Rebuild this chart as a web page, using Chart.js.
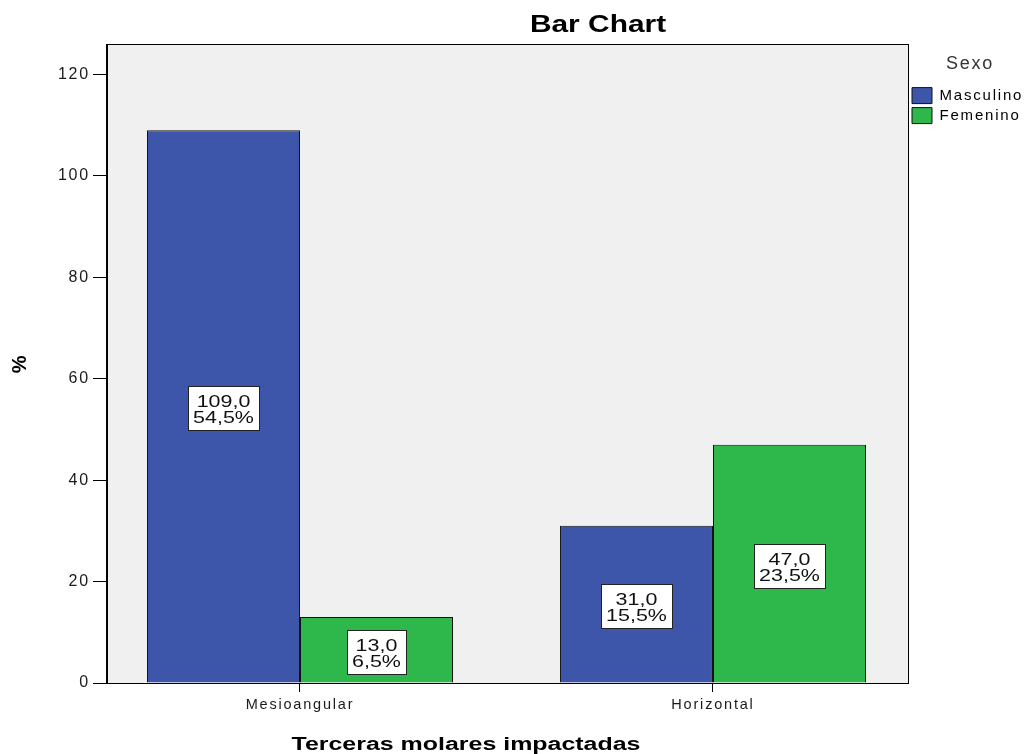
<!DOCTYPE html>
<html>
<head>
<meta charset="utf-8">
<script src="https://cdn.jsdelivr.net/npm/chart.js@4.4.1/dist/chart.umd.min.js"></script>
<style>
  html, body { margin: 0; background: #fff; }
  #wrap { width: 1032px; height: 754px; position: relative; }
</style>
</head>
<body>
<div id="wrap"><canvas id="chart"></canvas></div>
<script>
// values (counts, and % of the 200 cases)
const categories = ['Mesioangular', 'Horizontal'];
const seriesNames = ['Masculino', 'Femenino'];
const masculino = [109, 31];
const femenino = [13, 47];
const masculinoPct = [54.5, 15.5];
const femeninoPct = [6.5, 23.5];
const yTicks = [0, 20, 40, 60, 80, 100, 120];
const yMax = 126;

const FONT = 'Arial, "Liberation Sans", sans-serif';
const STRETCH = 1.3; // reference text is drawn horizontally widened
const BLUE = '#3d56aa';
const GREEN = '#2eb84b';

const comma = (v, d) => v.toFixed(d).replace('.', ',');
// categories sit at x = 1, 2 on a linear axis so the groups land where SPSS put them
const toPoints = (arr) => arr.map((v, i) => ({ x: i + 1, y: v }));

// text drawn widened about a centre point
function wideText(ctx, txt, cx, y, font, color) {
  ctx.save();
  ctx.letterSpacing = '0px';
  ctx.font = font;
  ctx.fillStyle = color;
  ctx.textAlign = 'center';
  ctx.textBaseline = 'alphabetic';
  ctx.translate(cx, y);
  ctx.scale(STRETCH, 1);
  ctx.fillText(txt, 0, 0);
  ctx.restore();
}

const spssLook = {
  id: 'spssLook',
  beforeUpdate(chart) { chart.ctx.letterSpacing = '1.8px'; },
  beforeLayout(chart) {
    const lg = chart.legend;
    if (lg && !lg._fixed) {
      const fit = lg.fit.bind(lg);
      lg.fit = function () { fit(); this.width = 124; };
      lg._fixed = true;
    }
  },
  beforeDraw(chart) {
    const { ctx, chartArea: a } = chart;
    ctx.letterSpacing = '1.8px';
    ctx.save();
    ctx.fillStyle = '#f0f0f0';
    ctx.fillRect(a.left, a.top, a.right - a.left, a.bottom - a.top);
    ctx.restore();
  },
  afterDatasetsDraw(chart) {
    const { ctx } = chart;
    const pcts = [masculinoPct, femeninoPct];
    chart.data.datasets.forEach((ds, di) => {
      chart.getDatasetMeta(di).data.forEach((bar, i) => {
        const l1 = comma(ds.data[i].y, 1);
        const l2 = comma(pcts[di][i], 1) + '%';
        const font = '16.5px ' + FONT;
        ctx.save();
        ctx.letterSpacing = '0px';
        ctx.font = font;
        const w = Math.max(ctx.measureText(l1).width, ctx.measureText(l2).width) * STRETCH + 10;
        const h = 44;
        const cx = bar.x;
        const cy = (bar.y + bar.base) / 2 + 2;
        const x0 = Math.round(cx - w / 2) + 0.5;
        const y0 = Math.round(cy - h / 2) + 0.5;
        ctx.fillStyle = '#fff';
        ctx.strokeStyle = '#222';
        ctx.lineWidth = 1;
        ctx.fillRect(x0, y0, Math.round(w), h);
        ctx.strokeRect(x0, y0, Math.round(w), h);
        ctx.restore();
        wideText(ctx, l1, cx, y0 + 20, font, '#111');
        wideText(ctx, l2, cx, y0 + 36, font, '#111');
      });
    });
  },
  afterDraw(chart) {
    const { ctx, chartArea: a } = chart;
    ctx.save();
    ctx.strokeStyle = '#000';
    ctx.lineWidth = 1;
    ctx.strokeRect(Math.round(a.left) - 0.5, Math.round(a.top) + 0.5,
      Math.round(a.right - a.left) + 1, Math.round(a.bottom - a.top));
    ctx.restore();
    wideText(ctx, 'Bar Chart', 598, 32, 'bold 23px ' + FONT, '#000');
    wideText(ctx, 'Terceras molares impactadas', 466, 750, 'bold 19.2px ' + FONT, '#000');
  }
};

new Chart(document.getElementById('chart'), {
  type: 'bar',
  data: {
    datasets: [
      { label: seriesNames[0], data: toPoints(masculino), backgroundColor: BLUE, borderColor: '#111', borderWidth: 1 },
      { label: seriesNames[1], data: toPoints(femenino), backgroundColor: GREEN, borderColor: '#111', borderWidth: 1 },
    ],
  },
  options: {
    responsive: true,
    maintainAspectRatio: false,
    animation: false,
    barPercentage: 1,
    categoryPercentage: 0.741,
    layout: { padding: { top: 44, right: 0, bottom: 0, left: 0 } },
    plugins: {
      title: { display: false },
      tooltip: { enabled: false },
      legend: {
        position: 'right',
        align: 'start',
        title: { display: true, text: 'Sexo', color: '#333', font: { family: FONT, size: 18 }, padding: { top: 11, bottom: 7 } },
        labels: { boxWidth: 20, boxHeight: 16, padding: 4, color: '#000', font: { family: FONT, size: 15 } },
      },
    },
    scales: {
      x: {
        type: 'linear',
        offset: false,
        min: 0.5327,
        max: 2.4722,
        afterFit: (s) => { s.height = 71; },
        afterBuildTicks: (s) => { s.ticks = categories.map((_, i) => ({ value: i + 1 })); },
        border: { display: true, color: '#000', width: 1 },
        grid: { offset: false, drawOnChartArea: false, drawTicks: true, tickLength: 9, color: '#000' },
        ticks: {
          color: '#1a1a1a', padding: 4, font: { family: FONT, size: 14.5 },
          callback: (v) => categories[v - 1] ?? '',
        },
      },
      y: {
        min: 0,
        max: yMax,
        afterFit: (s) => { s.width = 107; },
        afterBuildTicks: (s) => { s.ticks = yTicks.map((v) => ({ value: v })); },
        border: { display: true, color: '#000', width: 1 },
        grid: { drawOnChartArea: false, drawTicks: true, tickLength: 14, color: '#000' },
        ticks: { color: '#1a1a1a', padding: 3, font: { family: FONT, size: 16 } },
        title: { display: true, text: '%', color: '#000', font: { family: FONT, size: 20, weight: 'bold' }, padding: { top: 8, bottom: 0 } },
      },
    },
  },
  plugins: [spssLook],
});
</script>
</body>
</html>
